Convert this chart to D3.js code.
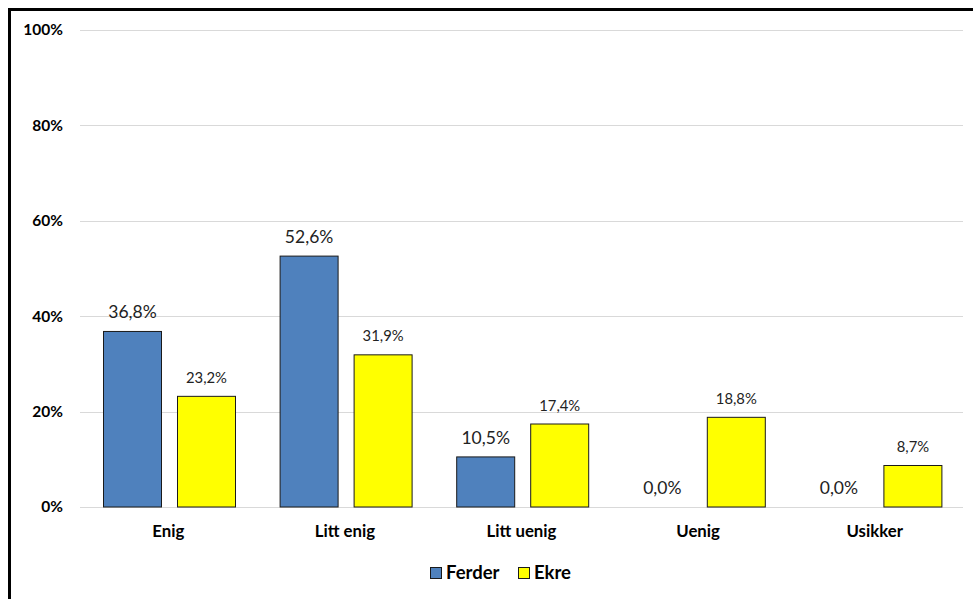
<!DOCTYPE html>
<html>
<head>
<meta charset="utf-8">
<script src="https://cdn.jsdelivr.net/npm/d3@7"></script>
<style>
  html, body { margin: 0; padding: 0; background: #fff; }
  svg { display: block; }
</style>
</head>
<body>
<svg id="chart" width="973" height="599"></svg>
<script>
const categories = ["Enig", "Litt enig", "Litt uenig", "Uenig", "Usikker"];
const seriesNames = ["Ferder", "Ekre"];
const ferder = [36.8, 52.6, 10.5, 0.0, 0.0];
const ekre = [23.2, 31.9, 17.4, 18.8, 8.7];
const yTicks = [0, 20, 40, 60, 80, 100];
const colors = ["#4F81BD", "#FFFF00"];

const svg = d3.select("#chart");
const font = "Lato, 'Open Sans', sans-serif";

// outer frame
svg.append("rect")
  .attr("x", 9.5).attr("y", 9.5)
  .attr("width", 1000).attr("height", 700)
  .attr("fill", "none").attr("stroke", "#000").attr("stroke-width", 3);

const plot = { left: 80, right: 963, top: 30, bottom: 507 };

const x = d3.scaleBand().domain(categories)
  .range([plot.left, plot.right]).paddingInner(0).paddingOuter(0);
const xInner = d3.scaleBand().domain(seriesNames)
  .range([23, 156]).paddingInner(15 / 74).paddingOuter(0);
const y = d3.scaleLinear().domain([0, 100]).range([plot.bottom, plot.top]);

// gridlines
svg.append("g").selectAll("line").data(yTicks).join("line")
  .attr("x1", plot.left).attr("x2", plot.right)
  .attr("y1", d => Math.round(y(d)) + 0.5).attr("y2", d => Math.round(y(d)) + 0.5)
  .attr("stroke", "#d9d9d9").attr("stroke-width", 1);

// y axis labels
const yAxis = d3.axisLeft(y).tickValues(yTicks).tickFormat(d => d + "%").tickSize(0).tickPadding(0);
const yg = svg.append("g").attr("transform", `translate(63,0)`).call(yAxis);
yg.select(".domain").remove();
yg.selectAll("text").attr("font-family", font).attr("font-weight", "bold")
  .attr("font-size", 15.5).attr("fill", "#000");

// x axis labels
const xAxis = d3.axisBottom(x).tickSize(0).tickPadding(0);
const xg = svg.append("g").attr("transform", `translate(0,${plot.bottom + 18})`).call(xAxis);
xg.select(".domain").remove();
xg.selectAll("text").attr("font-family", font).attr("font-weight", "bold")
  .attr("font-size", 16.8).attr("fill", "#000");

const data = categories.map((c, i) => ({ cat: c, values: [ferder[i], ekre[i]] }));

const groups = svg.append("g").selectAll("g").data(data).join("g")
  .attr("transform", d => `translate(${x(d.cat)},0)`);

groups.selectAll("rect").data(d => d.values.map((v, j) => ({ v, s: seriesNames[j], j })))
  .join("rect")
  .filter(d => d.v > 0)
  .attr("x", d => xInner(d.s) + 0.5)
  .attr("y", d => y(d.v))
  .attr("width", xInner.bandwidth() - 1)
  .attr("height", d => y(0) - y(d.v))
  .attr("fill", d => colors[d.j])
  .attr("stroke", "#1a1a1a").attr("stroke-width", 1);

const fmt = v => v.toFixed(1).replace(".", ",") + "%";
groups.selectAll("text.lbl").data(d => d.values.map((v, j) => ({ v, s: seriesNames[j], j })))
  .join("text").attr("class", "lbl")
  .attr("x", d => xInner(d.s) + xInner.bandwidth() / 2)
  .attr("y", d => y(d.v) - (d.j === 0 ? 13 : 13.5))
  .attr("text-anchor", "middle")
  .attr("font-family", font)
  .attr("font-size", d => d.j === 0 ? 17.5 : 14.8)
  .attr("fill", "#222")
  .text(d => fmt(d.v));

// legend
const legend = svg.append("g").attr("transform", "translate(430,567)");
const items = [{ name: seriesNames[0], c: colors[0], x: 0 }, { name: seriesNames[1], c: colors[1], x: 88 }];
items.forEach(it => {
  legend.append("rect").attr("x", it.x + 0.5).attr("y", 0.5).attr("width", 11).attr("height", 11)
    .attr("fill", it.c).attr("stroke", "#1a1a1a");
  legend.append("text").attr("x", it.x + 16).attr("y", 12)
    .attr("font-family", font).attr("font-weight", "bold").attr("font-size", 18.5)
    .attr("fill", "#000").text(it.name);
});
</script>
</body>
</html>
